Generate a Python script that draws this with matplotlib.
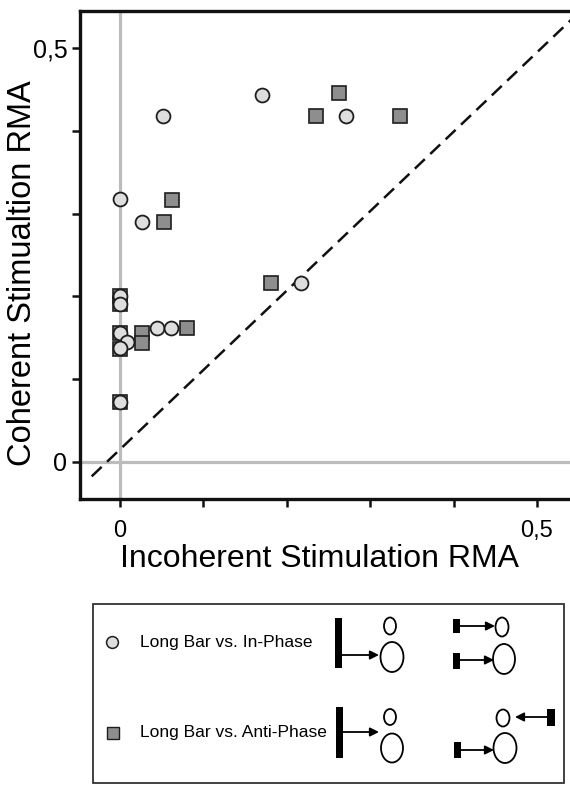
import matplotlib
matplotlib.use("Agg")
import matplotlib.pyplot as plt
import matplotlib.patches as patches

plt.rcParams['font.family'] = ['Liberation Sans', 'DejaVu Sans']

# RMA values: (incoherent, coherent)
IN_PHASE_X = [0.170, 0.052, 0.271, 0.000, 0.026, 0.217, 0.000, 0.000,
              0.000, 0.008, 0.000, 0.044, 0.061, 0.000]
IN_PHASE_Y = [0.444, 0.418, 0.418, 0.318, 0.290, 0.216, 0.201, 0.191,
              0.156, 0.145, 0.138, 0.162, 0.162, 0.072]

ANTI_PHASE_X = [0.263, 0.235, 0.336, 0.062, 0.053, 0.181, 0.000, 0.000,
                0.000, 0.000, 0.026, 0.026, 0.080, 0.000]
ANTI_PHASE_Y = [0.446, 0.418, 0.418, 0.317, 0.290, 0.216, 0.201, 0.191,
                0.156, 0.136, 0.156, 0.144, 0.162, 0.072]

# fitted line drawn dashed across the plot
FIT_SLOPE = 0.96
FIT_INTERCEPT = 0.015
FIT_X = [-0.034, 0.58]

TICKS = [0.0, 0.1, 0.2, 0.3, 0.4, 0.5]
TICK_LABELS = ['0', '', '', '', '', '0,5']

LEGEND_LABELS = ['Long Bar vs. In-Phase', 'Long Bar vs. Anti-Phase']

W, H = 570, 785
fig = plt.figure(figsize=(W / 100, H / 100), dpi=100)

# overlay in pixel units for the legend box and the stimulus sketches
ov = fig.add_axes([0, 0, 1, 1])
ov.set_xlim(0, W)
ov.set_ylim(H, 0)
ov.axis("off")

ax = fig.add_axes([80 / W, 1 - 499 / H, 507 / W, 488 / H])
ax.set_xlim(-0.048, 0.56)
ax.set_ylim(-0.045, 0.545)

grey = '#bcbcbc'
ax.axvline(0, color=grey, lw=2.3, zorder=1)
ax.axhline(0, color=grey, lw=2.3, zorder=1)

fy = [FIT_SLOPE * x + FIT_INTERCEPT for x in FIT_X]
ax.plot(FIT_X, fy, color='#111111', lw=1.8, dashes=(5.5, 3), zorder=2)

ax.plot(ANTI_PHASE_X, ANTI_PHASE_Y, 's', ms=10, mfc='#8e8e8e', mec='#1e1e1e',
        mew=1.2, ls='none', zorder=3)
ax.plot(IN_PHASE_X, IN_PHASE_Y, 'o', ms=10, mfc='#dedede', mec='#1e1e1e',
        mew=1.3, ls='none', zorder=4)

ax.set_xticks(TICKS)
ax.set_xticklabels(TICK_LABELS, fontsize=17)
ax.set_yticks(TICKS)
ax.set_yticklabels(TICK_LABELS, fontsize=18)
ax.tick_params(axis='both', direction='out', width=1.8, length=6, color='#111111')
ax.tick_params(axis='x', pad=9)
ax.tick_params(axis='y', pad=3)
for s in ax.spines.values():
    s.set_linewidth(2.4)
    s.set_color('#111111')

fig.text(23 / W, 1 - 273 / H, 'Coherent Stimualtion RMA', rotation=90,
         ha='center', va='center', fontsize=23.5)
fig.text(320 / W, 1 - 559 / H, 'Incoherent Stimulation RMA',
         ha='center', va='center', fontsize=23)

# legend box
ov.add_patch(patches.Rectangle((93, 604), 471, 179, fill=False, lw=1.3,
                               ec='#333333'))
ov.plot([112], [642], 'o', ms=8.5, mfc='#dedede', mec='#1e1e1e', mew=1.1)
ov.plot([113], [733], 's', ms=8.5, mfc='#8e8e8e', mec='#1e1e1e', mew=1.0)
ov.text(140, 642, LEGEND_LABELS[0], fontsize=12.5, va='center', ha='left')
ov.text(140, 733, LEGEND_LABELS[1], fontsize=12.5, va='center', ha='left')


def bar(xc, yc, w, h):
    ov.add_patch(patches.Rectangle((xc - w / 2, yc - h / 2), w, h,
                                   color='black', lw=0))


def ell(xc, yc, w, h):
    ov.add_patch(patches.Ellipse((xc, yc), w, h, fill=False, lw=1.3,
                                 ec='black'))


def arrow(x0, x1, y):
    ov.annotate('', xy=(x1, y), xytext=(x0, y),
                arrowprops=dict(arrowstyle='-|>', lw=1.3, color='black',
                                mutation_scale=13, shrinkA=0, shrinkB=0))


# in-phase row
bar(338.5, 643, 7, 50)
arrow(342, 379, 655)
ell(390, 626, 12, 17)
ell(392, 657, 23, 30)
bar(456, 626, 7, 14)
arrow(459, 495, 626)
ell(502, 627, 13, 19)
bar(456, 661, 7, 16)
arrow(459, 494, 660)
ell(504, 659, 22, 30)

# anti-phase row
bar(339.5, 732, 7, 51)
arrow(343, 379, 732)
ell(390, 717, 12, 16)
ell(392, 748, 22, 29)
ell(503, 718, 13, 17)
bar(551, 717, 8, 17)
arrow(547, 515, 717)
bar(457, 750, 7, 16)
arrow(460, 494, 750)
ell(505, 748, 23, 30)

fig.savefig("out.png", dpi=100)
